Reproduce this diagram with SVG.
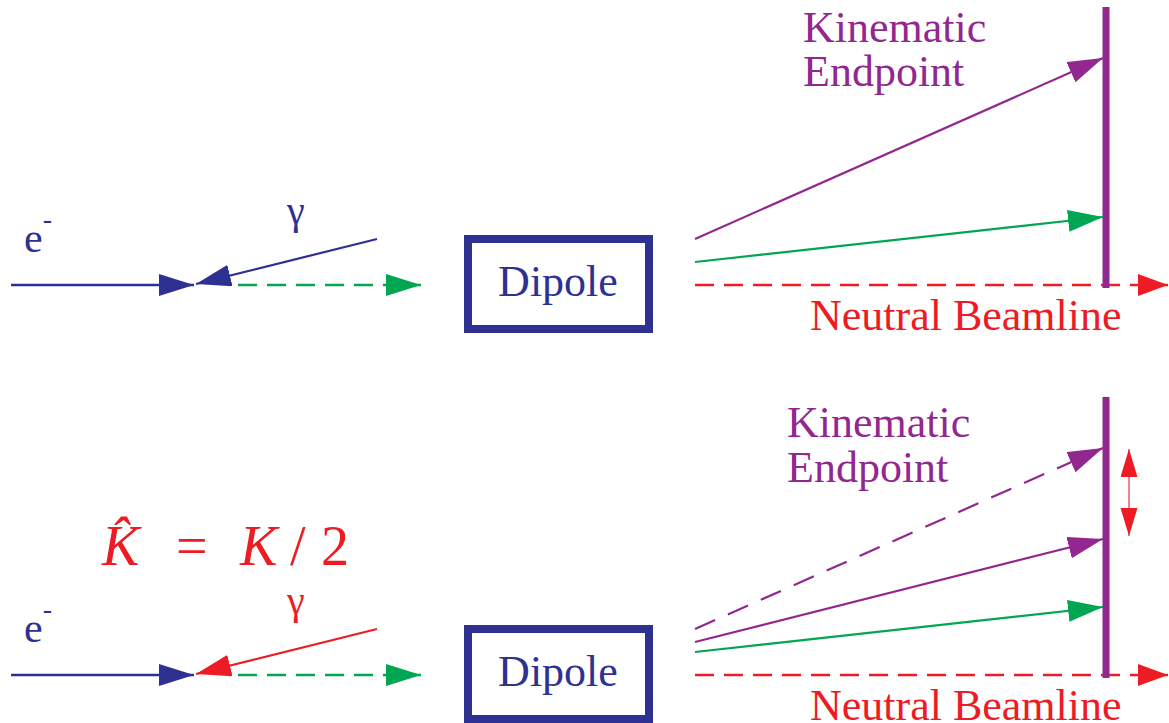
<svg xmlns="http://www.w3.org/2000/svg" width="1169" height="723" viewBox="0 0 1169 723">
<defs>
<marker id="aB" markerUnits="userSpaceOnUse" markerWidth="36" markerHeight="22" refX="35" refY="11" orient="auto"><path d="M0,0 L35,11 L0,22 z" fill="#2e3192"/></marker>
<marker id="aG" markerUnits="userSpaceOnUse" markerWidth="36" markerHeight="22" refX="35" refY="11" orient="auto"><path d="M0,0 L35,11 L0,22 z" fill="#00a651"/></marker>
<marker id="aR" markerUnits="userSpaceOnUse" markerWidth="36" markerHeight="22" refX="35" refY="11" orient="auto"><path d="M0,0 L35,11 L0,22 z" fill="#ed1c24"/></marker>
<marker id="aP" markerUnits="userSpaceOnUse" markerWidth="36" markerHeight="22" refX="35" refY="11" orient="auto"><path d="M0,0 L35,11 L0,22 z" fill="#92278f"/></marker>
<marker id="aRb" markerUnits="userSpaceOnUse" markerWidth="31" markerHeight="22" refX="30" refY="11" orient="auto"><path d="M0,0 L30,11 L0,22 z" fill="#ed1c24"/></marker>
<marker id="aRs" markerUnits="userSpaceOnUse" markerWidth="29" markerHeight="18" refX="28" refY="8.5" orient="auto-start-reverse"><path d="M0,0 L28,8.5 L0,17 z" fill="#ed1c24"/></marker>
</defs>

<g id="connectors" fill="none" stroke-width="2.2">
<line x1="11" y1="285" x2="194" y2="285" stroke="#2e3192" stroke-width="2.5" marker-end="url(#aB)"/>
<line x1="377" y1="239" x2="196" y2="284" stroke="#2e3192" marker-end="url(#aB)"/>
<line x1="238" y1="285" x2="421" y2="285" stroke="#00a651" stroke-width="2.5" stroke-dasharray="19 10" marker-end="url(#aG)"/>
<line x1="695" y1="285" x2="1168" y2="285" stroke="#ed1c24" stroke-width="2.5" stroke-dasharray="19 10" marker-end="url(#aRb)"/>
<line x1="1106" y1="7" x2="1106" y2="288" stroke="#92278f" stroke-width="7"/>
<line x1="695" y1="239" x2="1103" y2="58" stroke="#92278f" marker-end="url(#aP)"/>
<line x1="695" y1="262" x2="1103" y2="217" stroke="#00a651" marker-end="url(#aG)"/>
<line x1="11" y1="675" x2="194" y2="675" stroke="#2e3192" stroke-width="2.5" marker-end="url(#aB)"/>
<line x1="377" y1="629" x2="196" y2="674" stroke="#ed1c24" marker-end="url(#aR)"/>
<line x1="238" y1="675" x2="421" y2="675" stroke="#00a651" stroke-width="2.5" stroke-dasharray="19 10" marker-end="url(#aG)"/>
<line x1="695" y1="675" x2="1168" y2="675" stroke="#ed1c24" stroke-width="2.5" stroke-dasharray="19 10" marker-end="url(#aRb)"/>
<line x1="1106" y1="397" x2="1106" y2="678" stroke="#92278f" stroke-width="7"/>
<line x1="695" y1="629" x2="1103" y2="448" stroke="#92278f" stroke-dasharray="22 14" marker-end="url(#aP)"/>
<line x1="695" y1="642" x2="1103" y2="539" stroke="#92278f" marker-end="url(#aP)"/>
<line x1="695" y1="652" x2="1103" y2="607" stroke="#00a651" marker-end="url(#aG)"/>
<line x1="1129" y1="449" x2="1129" y2="536" stroke="#f05a60" stroke-width="1.5" marker-start="url(#aRs)" marker-end="url(#aRs)"/>
</g>

<g id="dipole-top">
<rect x="468" y="239" width="181" height="90" fill="#fff" stroke="#2e3192" stroke-width="8"/>
<text x="558" y="296" text-anchor="middle" font-family="Liberation Serif" font-size="44" fill="#2e3192">Dipole</text>
</g>
<g id="dipole-bottom">
<rect x="468" y="629" width="181" height="90" fill="#fff" stroke="#2e3192" stroke-width="8"/>
<text x="558" y="686" text-anchor="middle" font-family="Liberation Serif" font-size="44" fill="#2e3192">Dipole</text>
</g>

<g id="labels-top">
<text x="24" y="252" font-family="Liberation Serif" font-size="42" fill="#2e3192">e<tspan font-size="28" dy="-24">-</tspan></text>
<text x="287" y="224" font-family="Liberation Serif" font-size="40" fill="#2e3192">&#947;</text>
<text x="803" y="42" font-family="Liberation Serif" font-size="44" fill="#92278f">Kinematic</text>
<text x="803" y="86" font-family="Liberation Serif" font-size="44" fill="#92278f">Endpoint</text>
<text x="810" y="330" font-family="Liberation Serif" font-size="44" fill="#ed1c24">Neutral Beamline</text>
</g>

<g id="labels-bottom">
<text x="102" y="565" font-family="Liberation Serif" font-size="56" fill="#ed1c24"><tspan font-style="italic">K&#770;</tspan><tspan x="176">=</tspan><tspan x="240" font-style="italic">K</tspan><tspan x="290">/</tspan><tspan x="321">2</tspan></text>
<text x="24" y="642" font-family="Liberation Serif" font-size="42" fill="#2e3192">e<tspan font-size="28" dy="-24">-</tspan></text>
<text x="287" y="614" font-family="Liberation Serif" font-size="40" fill="#ed1c24">&#947;</text>
<text x="787" y="437" font-family="Liberation Serif" font-size="44" fill="#92278f">Kinematic</text>
<text x="787" y="482" font-family="Liberation Serif" font-size="44" fill="#92278f">Endpoint</text>
<text x="810" y="720" font-family="Liberation Serif" font-size="44" fill="#ed1c24">Neutral Beamline</text>
</g>
</svg>
